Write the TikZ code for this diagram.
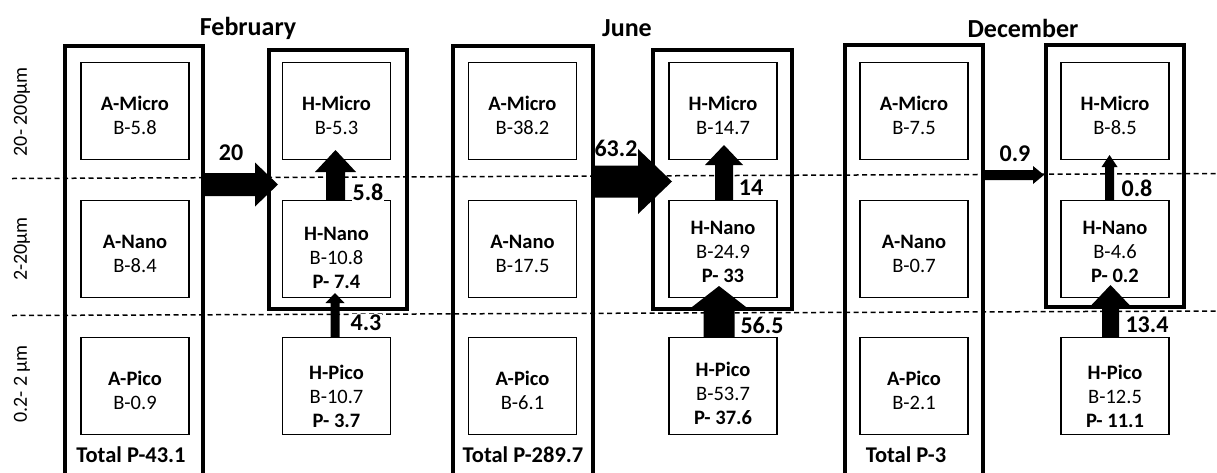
\documentclass[tikz,border=0pt]{standalone}
\usepackage{fontspec}
\setmainfont{Carlito}
\usetikzlibrary{calc}
% fat arrow pointing right: #1 start node anchor (x used), #2 tip coordinate, #3 half shaft, #4 half head, #5 head length
\newcommand{\fatright}[5]{%
  \fill let \p1=(#1), \p2=(#2) in
    (\x1,\y2+#3) -- (\x2-#5,\y2+#3) -- (\x2-#5,\y2+#4) -- (\x2,\y2)
    -- (\x2-#5,\y2-#4) -- (\x2-#5,\y2-#3) -- (\x1,\y2-#3) -- cycle;}
% fat arrow pointing up: #1 start node anchor (y used), #2 tip coordinate
\newcommand{\fatup}[5]{%
  \fill let \p1=(#1), \p2=(#2) in
    (\x2-#3,\y1) -- (\x2-#3,\y2-#5) -- (\x2-#4,\y2-#5) -- (\x2,\y2)
    -- (\x2+#4,\y2-#5) -- (\x2+#3,\y2-#5) -- (\x2+#3,\y1) -- cycle;}
\begin{document}
\begin{tikzpicture}[x=1pt,y=-1pt,
  obox/.style={draw, line width=3.3pt, inner sep=0pt},
  ibox/.style={draw, line width=1.3pt, minimum width=108pt, minimum height=97pt, inner sep=0pt},
  btxt/.style={font=\fontsize{20.5}{24}\selectfont, align=center, inner sep=0pt},
  ttl/.style={font=\fontsize{26}{30}\selectfont\bfseries, inner sep=0pt},
  val/.style={font=\fontsize{24}{28}\selectfont\bfseries, inner sep=1pt},
  valw/.style={val, fill=white},
  tot/.style={font=\fontsize{22.5}{27}\selectfont\bfseries, inner sep=0pt},
  axl/.style={font=\fontsize{20}{24}\selectfont, rotate=90, inner sep=0pt},
  sepline/.style={line width=1.5pt, dash pattern=on 5pt off 3.5pt}]
\useasboundingbox (0,0) rectangle (1217,472);
\clip (0,0) rectangle (1217,472);

% separators
\coordinate (s1a) at (12,178.5); \coordinate (s1b) at (1217,173.5);
\coordinate (s2a) at (12,315.5); \coordinate (s2b) at (1217,311);
\draw[sepline] (s1a) -- (s1b);
\draw[sepline] (s2a) -- (s2b);

% axis labels
\node[axl] (ax1) at (22,112) {20- 200µm};
\node[axl] (ax2) at (22,249) {2-20µm};
\node[axl] (ax3) at (22,384) {0.2- 2 µm};

% titles
\node[ttl] (tiF) at (248,28) {February};
\node[ttl] (tiJ) at (627,28) {June};
\node[ttl] (tiD) at (1023,28) {December};

% outer boxes
\node[obox, minimum width=138pt, minimum height=450pt] (aoF) at (134,271) {};
\node[obox, minimum width=140pt, minimum height=450pt] (aoJ) at (523,271) {};
\node[obox, minimum width=138pt, minimum height=450pt] (aoD) at (914,270) {};
\node[obox, minimum width=138pt, minimum height=259pt] (hoF) at (338,179.5) {};
\node[obox, minimum width=139pt, minimum height=259pt] (hoJ) at (722.5,179.5) {};
\node[obox, minimum width=138pt, minimum height=262pt] (hoD) at (1115,176) {};

% inner boxes: February
\node[ibox] (amF) at (135,111) {};
\node[ibox] (anF) at (135,249) {};
\node[ibox] (apF) at (135,386) {};
\node[ibox] (hmF) at (336.5,111) {};
\node[ibox] (hnF) at (336.5,249) {};
\node[ibox] (hpF) at (336.5,386) {};
% June
\node[ibox] (amJ) at (522.5,111) {};
\node[ibox] (anJ) at (522.5,249) {};
\node[ibox] (apJ) at (522.5,386) {};
\node[ibox] (hmJ) at (723,111) {};
\node[ibox] (hnJ) at (723,249) {};
\node[ibox] (hpJ) at (723,386) {};
% December
\node[ibox] (amD) at (914,111) {};
\node[ibox] (anD) at (914,249) {};
\node[ibox] (apD) at (914,386) {};
\node[ibox] (hmD) at (1115,111) {};
\node[ibox] (hnD) at (1115,249) {};
\node[ibox] (hpD) at (1115,386) {};

% box texts
\node[btxt] at ($(amF.center)+(0,4)$) {\textbf{A-Micro}\\B-5.8};
\node[btxt] at ($(anF.center)+(0,5)$) {\textbf{A-Nano}\\B-8.4};
\node[btxt] at ($(apF.center)+(0,4)$) {\textbf{A-Pico}\\B-0.9};
\node[btxt] at ($(hmF.center)+(0,4)$) {\textbf{H-Micro}\\B-5.3};
\node[btxt] at ($(hnF.center)+(0,9)$) {\textbf{H-Nano}\\B-10.8\\\textbf{P- 7.4}};
\node[btxt] at ($(hpF.center)+(0,10)$) {\textbf{H-Pico}\\B-10.7\\\textbf{P- 3.7}};

\node[btxt] at ($(amJ.center)+(0,4)$) {\textbf{A-Micro}\\B-38.2};
\node[btxt] at ($(anJ.center)+(0,5)$) {\textbf{A-Nano}\\B-17.5};
\node[btxt] at ($(apJ.center)+(0,4)$) {\textbf{A-Pico}\\B-6.1};
\node[btxt] at ($(hmJ.center)+(0,4)$) {\textbf{H-Micro}\\B-14.7};
\node[btxt] at ($(hnJ.center)+(0,3)$) {\textbf{H-Nano}\\B-24.9\\\textbf{P- 33}};
\node[btxt] at ($(hpJ.center)+(0,7)$) {\textbf{H-Pico}\\B-53.7\\\textbf{P- 37.6}};

\node[btxt] at ($(amD.center)+(0,4)$) {\textbf{A-Micro}\\B-7.5};
\node[btxt] at ($(anD.center)+(0,5)$) {\textbf{A-Nano}\\B-0.7};
\node[btxt] at ($(apD.center)+(0,4)$) {\textbf{A-Pico}\\B-2.1};
\node[btxt] at ($(hmD.center)+(0,4)$) {\textbf{H-Micro}\\B-8.5};
\node[btxt] at ($(hnD.center)+(0,3)$) {\textbf{H-Nano}\\B-4.6\\\textbf{P- 0.2}};
\node[btxt] at ($(hpD.center)+(0,10)$) {\textbf{H-Pico}\\B-12.5\\\textbf{P- 11.1}};

% totals
\node[tot] (toF) at (131,455) {Total P-43.1};
\node[tot] (toJ) at (523,455) {Total P-289.7};
\node[tot] (toD) at (906,455) {Total P-3};

% horizontal arrows
\coordinate (tF) at (278,184.5);
\coordinate (tJ) at (672,181.5);
\coordinate (tD) at (1044,175);
\fatright{aoF.east}{tF}{11.5pt}{22pt}{23pt}
\fatright{aoJ.east}{tJ}{16pt}{32.5pt}{34pt}
\fatright{aoD.east}{tD}{5pt}{9pt}{11pt}

% vertical arrows
\coordinate (u1F) at (335.5,150);
\coordinate (u2F) at (335,293);
\coordinate (u1J) at (724,145);
\coordinate (u2J) at (719,286);
\coordinate (u1D) at (1109.5,155);
\coordinate (u2D) at (1110.5,285);
\fatup{hnF.north}{u1F}{9.5pt}{20.5pt}{22pt}
\fatup{hpF.north}{u2F}{4.5pt}{9.5pt}{10pt}
\fatup{hnJ.north}{u1J}{9pt}{19pt}{20pt}
\fatup{hpJ.north}{u2J}{15.5pt}{27pt}{21pt}
\fatup{hnD.north}{u1D}{4.5pt}{8pt}{12pt}
\fatup{hpD.north}{u2D}{8.5pt}{19pt}{20pt}

% arrow values
\node[val] (vF1) at (231,153) {20};
\node[val] (vJ1) at (616,148) {63.2};
\node[val] (vD1) at (1015,154) {0.9};
\node[valw] (vF2) at (368,192) {5.8};
\node[valw] (vJ2) at (751,188) {14};
\node[valw] (vD2) at (1137,188) {0.8};
\node[valw] (vF3) at (366,323) {4.3};
\node[valw] (vJ3) at (762,325) {56.5};
\node[valw] (vD3) at (1147,325) {13.4};
\end{tikzpicture}
\end{document}
